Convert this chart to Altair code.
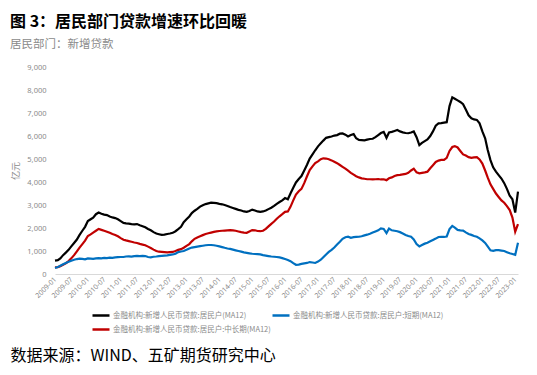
import altair as alt
import pandas as pd

# ---- data (monthly, 2009-01 .. 2023-02), 亿元 ----
total = [
    580, 600, 680, 820, 930, 1050, 1200, 1350, 1500, 1700, 1880, 2050,
    2300, 2380, 2450, 2600, 2670, 2620, 2580, 2560, 2500, 2460, 2430, 2380,
    2300, 2220, 2200, 2190, 2170, 2160, 2170, 2120, 2080, 2030, 1960, 1900,
    1820, 1760, 1730, 1700, 1710, 1740, 1760, 1790, 1860, 1950, 2050, 2250,
    2380, 2500, 2650, 2750, 2830, 2930, 2990, 3040, 3070, 3100, 3090, 3080,
    3050, 3030, 3000, 2960, 2910, 2870, 2830, 2790, 2760, 2720, 2700, 2740,
    2800, 2760, 2720, 2700, 2720, 2760, 2820, 2880, 2960, 3050, 3130, 3200,
    3300, 3250, 3500, 3750, 3980, 4130, 4260, 4500, 4750, 5020, 5200, 5380,
    5550, 5680, 5800, 5920, 5950, 5980, 6020, 6040, 6100, 6110, 6060, 5980,
    6040, 6080, 5900, 5830, 5820, 5810, 5840, 5870, 5880, 5950, 6040, 6130,
    6180, 5920, 6150, 6180, 6220, 6260, 6200, 6160, 6130, 6120, 6150, 6200,
    5950, 5600, 5700, 5780, 5850, 6000, 6200, 6450, 6550, 6560, 6580, 6600,
    7300, 7680, 7620, 7550, 7480, 7380, 7150, 6900, 6770, 6720, 6700, 6550,
    6200, 5900, 5400, 4950, 4640, 4450, 4300, 4150, 3950, 3700, 3400, 3250,
    2670, 3580,
]
short_term = [
    260, 300, 360, 420, 480, 530, 580, 620, 650, 670, 660, 640,
    680, 670, 660, 680, 690, 680, 700, 690, 710, 700, 720, 730,
    740, 740, 760, 770, 760, 780, 790, 780, 790, 780, 740, 720,
    750, 760, 780, 790, 800, 810, 830, 850, 880, 950, 980, 1000,
    1050, 1110, 1150, 1170, 1190, 1210, 1230, 1250, 1260, 1260, 1250, 1230,
    1200, 1170, 1140, 1110, 1090, 1060, 1030, 1000, 970, 940, 920, 900,
    880, 870, 860, 850, 820, 800, 780, 760, 750, 740, 720, 690,
    650, 610, 560, 470, 400, 410, 440, 460, 480, 520, 500, 480,
    540, 620, 730, 850, 960, 1050, 1150, 1280, 1400, 1530, 1600, 1620,
    1570, 1600, 1610, 1620, 1640, 1680, 1710, 1750, 1800, 1850, 1900, 1980,
    1960, 1780, 1980, 1900, 1880, 1860, 1820, 1760, 1700, 1650, 1620, 1500,
    1300, 1200, 1260, 1320, 1360, 1420, 1480, 1540, 1610, 1620, 1610, 1630,
    1950, 2090, 2020, 1920, 1900, 1890, 1810, 1740, 1700, 1650, 1620, 1550,
    1460, 1350, 1200, 1030, 1010, 1040, 1040, 1020, 1000, 950, 900, 870,
    830, 1360,
]
mid_long = [
    290, 300, 340, 400, 460, 560, 680, 820, 980, 1150, 1300, 1450,
    1650, 1720, 1800, 1880, 1960, 1920, 1880, 1840, 1790, 1740, 1700, 1640,
    1560, 1490, 1460, 1430, 1400, 1370, 1350, 1310, 1280, 1250, 1190, 1130,
    1060, 1000, 970, 960, 950, 940, 950, 960, 1000, 1050, 1080, 1140,
    1220, 1300, 1420, 1530, 1590, 1640, 1690, 1740, 1770, 1800, 1830, 1850,
    1870, 1880, 1890, 1900, 1910, 1900, 1880, 1850, 1820, 1800, 1790, 1850,
    1910, 1900, 1870, 1860, 1880, 1960, 2070, 2180, 2280, 2400, 2510, 2600,
    2700, 2720, 2920, 3200, 3450, 3600, 3700, 3950, 4250, 4520, 4680, 4820,
    4900, 4990, 5030, 5020, 4990, 4940, 4880, 4820, 4740, 4660, 4580, 4490,
    4400, 4320, 4250, 4200, 4160, 4140, 4120, 4120, 4110, 4120, 4130, 4110,
    4120, 4080, 4160, 4200, 4260, 4300, 4310, 4330, 4350, 4400, 4500, 4580,
    4420, 4380, 4400, 4420, 4450, 4600, 4730, 4870, 4930, 4960, 4960, 5050,
    5350, 5520, 5560, 5500, 5350, 5200, 5150, 5080, 5050, 5070, 5080, 4980,
    4800, 4500, 4200, 3900, 3700, 3500, 3350, 3200, 3100, 2950, 2780, 2450,
    1840, 2170,
]

# legend fills column by column: black, red in column 1; blue in column 2
series_names = [
    "金融机构:新增人民币贷款:居民户(MA12)",
    "金融机构:新增人民币贷款:居民户:中长期(MA12)",
    "金融机构:新增人民币贷款:居民户:短期(MA12)",
]
series_colors = ["#000000", "#C00000", "#0070C0"]
series_values = [total, mid_long, short_term]
y_ticks = [0, 1000, 2000, 3000, 4000, 5000, 6000, 7000, 8000, 9000]
x_tick_labels = [f"{y}-{m:02d}" for y in range(2009, 2024) for m in (1, 7)][:29]

title_text = "图 3：居民部门贷款增速环比回暖"
subtitle_text = "居民部门：新增贷款"
source_text = "数据来源：WIND、五矿期货研究中心"
y_title = "亿元"

frames = []
for name, vals in zip(series_names, series_values):
    frames.append(pd.DataFrame({
        "date": pd.date_range("2009-01-01", periods=len(vals), freq="MS"),
        "value": vals,
        "series": name,
    }))
df = pd.concat(frames, ignore_index=True)

FONT = "Noto Sans CJK SC"
GRAY = "#8a8a8a"

chart = alt.Chart(df).mark_line(strokeWidth=2.2).encode(
    x=alt.X(
        "date:T",
        scale=alt.Scale(domain=["2009-01-01", "2023-02-01"], nice=False),
        axis=alt.Axis(
            title=source_text, titleX=-45, titleY=81,
            titleAlign="left", titleBaseline="middle", titleAngle=0,
            titleFontSize=16, titleColor="#000000", titleFontWeight="normal",
            titleFont=FONT,
            values=[f"{s}-01" for s in x_tick_labels], format="%Y-%m",
            labelAngle=-45, labelAlign="right", labelBaseline="middle",
            labelFontSize=7, labelColor=GRAY, labelFont="Noto Sans",
            labelPadding=4, ticks=False, grid=False,
            domainColor="#d9d9d9", domainWidth=1.2, labelOverlap=False,
        ),
    ),
    y=alt.Y(
        "value:Q",
        scale=alt.Scale(domain=[0, 9000], nice=False),
        axis=alt.Axis(
            title=y_title, values=y_ticks, format=",.0f",
            labelFontSize=7.5, labelColor=GRAY, labelFont="Noto Sans",
            labelPadding=9, ticks=False, grid=False, domain=False,
            titleColor=GRAY, titleFontSize=9, titleFontWeight="normal",
            titleFont=FONT, titlePadding=6,
        ),
    ),
    color=alt.Color(
        "series:N",
        scale=alt.Scale(domain=series_names, range=series_colors),
        legend=alt.Legend(
            title=None, orient="none", legendX=36, legendY=244,
            columns=2, columnPadding=0, rowPadding=5, clipHeight=9,
            symbolType="stroke", symbolSize=289, symbolStrokeWidth=2.5,
            labelFontSize=7.5, labelColor=GRAY, labelFont=FONT,
            labelLimit=0, labelOffset=2, padding=0,
        ),
    ),
).properties(
    width=463, height=207,
    title=alt.TitleParams(
        text=title_text, subtitle=subtitle_text,
        anchor="start", frame="group", dx=-45, offset=13,
        font=FONT, fontSize=16, fontWeight="bold", color="#000000",
        subtitleFont=FONT, subtitleFontSize=11.5, subtitleColor=GRAY,
        subtitleFontWeight="normal", subtitlePadding=9,
    ),
    autosize=alt.AutoSizeParams(type="none"),
    padding={"left": 47, "top": 59, "right": 10, "bottom": 92},
).configure_view(stroke=None)

chart.save("out.html", embed_options={"renderer": "svg", "actions": False})
